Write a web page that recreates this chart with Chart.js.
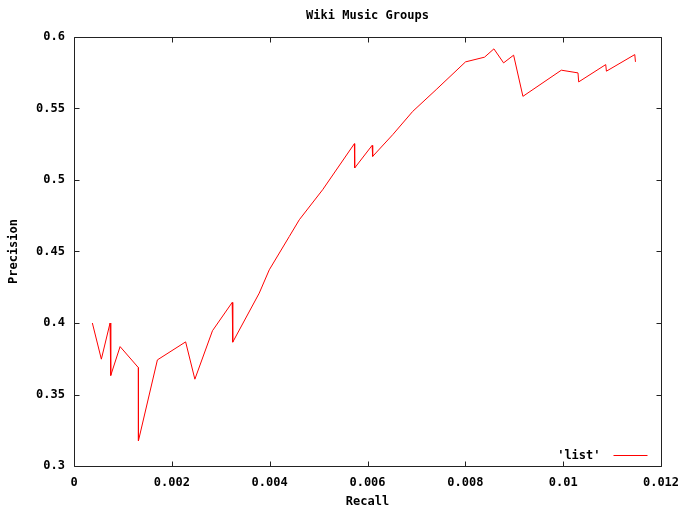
<!DOCTYPE html>
<html>
<head>
<meta charset="utf-8">
<script src="https://cdn.jsdelivr.net/npm/chart.js@4/dist/chart.umd.min.js"></script>
<style>
  html, body { margin: 0; padding: 0; background: #fff; }
  canvas { display: block; }
</style>
</head>
<body>
<canvas id="chart" width="685" height="506"></canvas>
<script>
// Precision / recall curve for the music-group list
const seriesLabel = "'list'";
const recall = [
  0.000375, 0.000559, 0.000737, 0.000751, 0.000942, 0.001316, 0.001317,
  0.001705, 0.002282, 0.002471, 0.002831, 0.003234, 0.003245, 0.003787,
  0.003992, 0.004401, 0.004606, 0.005083, 0.005732, 0.005738, 0.006094,
  0.006106, 0.006516, 0.006925, 0.007404, 0.008004, 0.008393, 0.008584,
  0.008782, 0.008987, 0.009177, 0.009963, 0.010303, 0.010317, 0.010870,
  0.010884, 0.011464, 0.011478
];
const precision = [
  0.4000, 0.3747, 0.4000, 0.3633, 0.3835, 0.3688, 0.3176,
  0.3742, 0.3868, 0.3607, 0.3946, 0.4144, 0.3866, 0.4209,
  0.4372, 0.4605, 0.4722, 0.4932, 0.5254, 0.5084, 0.5242,
  0.5165, 0.5317, 0.5480, 0.5632, 0.5826, 0.5859, 0.5917,
  0.5819, 0.5873, 0.5585, 0.5768, 0.5749, 0.5686, 0.5807,
  0.5761, 0.5877, 0.5826
];
const xTicks = [0, 0.002, 0.004, 0.006, 0.008, 0.01, 0.012];
const yTicks = [0.3, 0.35, 0.4, 0.45, 0.5, 0.55, 0.6];

const FONT = "'DejaVu Sans Mono', monospace";
const INK = '#000';
const fmt = v => String(Number(Number(v).toPrecision(6)));

// Border box, inward mirrored tick marks and the key in the lower right
const frame = {
  id: 'frame',
  afterDraw(chart) {
    const { ctx, chartArea: a, scales: { x, y } } = chart;
    const L = Math.round(a.left) + 0.5, R = Math.round(a.right) + 0.5;
    const T = Math.round(a.top) + 0.5, B = Math.round(a.bottom) + 0.5;
    const tl = 5;
    ctx.save();
    ctx.strokeStyle = '#222';
    ctx.lineWidth = 1;
    ctx.beginPath();
    ctx.moveTo(L, T); ctx.lineTo(R, T); ctx.lineTo(R, B); ctx.lineTo(L, B); ctx.closePath();
    x.ticks.forEach(t => {
      const px = Math.round(x.getPixelForValue(t.value)) + 0.5;
      ctx.moveTo(px, B); ctx.lineTo(px, B - tl);
      ctx.moveTo(px, T); ctx.lineTo(px, T + tl);
    });
    y.ticks.forEach(t => {
      const py = Math.round(y.getPixelForValue(t.value)) + 0.5;
      ctx.moveTo(L, py); ctx.lineTo(L + tl, py);
      ctx.moveTo(R, py); ctx.lineTo(R - tl, py);
    });
    ctx.stroke();

    const ds = chart.data.datasets[0];
    const ky = Math.round(a.bottom - 11) + 0.5;
    ctx.font = 'bold 12px ' + FONT;
    ctx.fillStyle = INK;
    ctx.textAlign = 'right';
    ctx.textBaseline = 'middle';
    ctx.fillText(ds.label, R - 61, ky);
    ctx.strokeStyle = ds.borderColor;
    ctx.beginPath();
    ctx.moveTo(R - 48, ky); ctx.lineTo(R - 14, ky);
    ctx.stroke();
    ctx.restore();
  }
};

new Chart(document.getElementById('chart'), {
  type: 'scatter',
  data: {
    datasets: [{
      label: seriesLabel,
      data: recall.map((r, i) => ({ x: r, y: precision[i] })),
      showLine: true,
      borderColor: '#ff0000',
      borderWidth: 1,
      pointRadius: 0,
      tension: 0,
      fill: false
    }]
  },
  options: {
    responsive: false,
    animation: false,
    devicePixelRatio: 1,
    layout: { padding: { left: 0, right: 24, top: 0, bottom: 0 } },
    plugins: {
      legend: { display: false },
      tooltip: { enabled: false },
      title: {
        display: true,
        text: 'Wiki Music Groups',
        color: INK,
        fullSize: false,
        font: { family: FONT, size: 12, weight: 'bold', lineHeight: 1.2 },
        padding: { top: 9, bottom: 13.6 }
      }
    },
    scales: {
      x: {
        type: 'linear',
        min: 0,
        max: 0.012,
        afterBuildTicks: s => { s.ticks = xTicks.map(v => ({ value: v })); },
        afterFit: s => { s.height = 40; s.paddingLeft = 0; s.paddingRight = 0; },
        grid: { display: false, drawTicks: false },
        border: { display: false },
        ticks: {
          color: INK,
          padding: 10,
          maxRotation: 0,
          font: { family: FONT, size: 12, weight: 'bold' },
          callback: v => fmt(v)
        },
        title: {
          display: true,
          text: 'Recall',
          color: INK,
          font: { family: FONT, size: 12, weight: 'bold', lineHeight: 1.2 },
          padding: { top: 0, bottom: -3 }
        }
      },
      y: {
        type: 'linear',
        min: 0.3,
        max: 0.6,
        afterBuildTicks: s => { s.ticks = yTicks.map(v => ({ value: v })); },
        afterFit: s => { s.width = 74; s.paddingTop = 0; s.paddingBottom = 0; },
        grid: { display: false, drawTicks: false },
        border: { display: false },
        ticks: {
          color: INK,
          padding: 9,
          font: { family: FONT, size: 12, weight: 'bold' },
          callback: v => fmt(v)
        },
        title: {
          display: true,
          text: 'Precision',
          color: INK,
          font: { family: FONT, size: 12, weight: 'bold', lineHeight: 1.2 },
          padding: { top: 7, bottom: 0 }
        }
      }
    }
  },
  plugins: [frame]
});
</script>
</body>
</html>
